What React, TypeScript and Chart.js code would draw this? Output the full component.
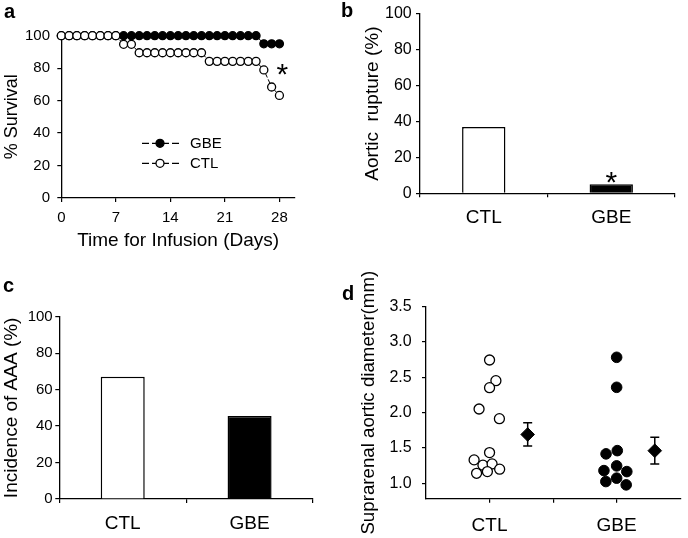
import React, { useEffect, useRef } from 'react';
import { Chart, registerables } from 'chart.js';

Chart.register(...registerables);

const FONT = "'Liberation Sans', Arial, Helvetica, sans-serif";
Chart.defaults.font.family = FONT;
Chart.defaults.color = '#000';

// ---------- Panel a: survival ----------
const days = [0, 1, 2, 3, 4, 5, 6, 7, 8, 9, 10, 11, 12, 13, 14, 15, 16, 17, 18, 19, 20, 21, 22, 23, 24, 25, 26, 27, 28];
const survivalCTL = [100, 100, 100, 100, 100, 100, 100, 100, 94.7, 94.7, 89.5, 89.5, 89.5, 89.5, 89.5, 89.5, 89.5, 89.5, 89.5, 84.2, 84.2, 84.2, 84.2, 84.2, 84.2, 84.2, 78.9, 68.4, 63.2];
const survivalGBE = [100, 100, 100, 100, 100, 100, 100, 100, 100, 100, 100, 100, 100, 100, 100, 100, 100, 100, 100, 100, 100, 100, 100, 100, 100, 100, 95, 95, 95];
const dayTicks = [0, 7, 14, 21, 28];
const survivalTicks = [0, 20, 40, 60, 80, 100];

// ---------- Panel b / c: bars ----------
const groups = ['CTL', 'GBE'];
const rupturePct = [37, 5];
const aaaPct = [67, 45.5];
const pctTicks = [0, 20, 40, 60, 80, 100];

// ---------- Panel d: diameters ----------
const ctlX = [1.0, 1.1, 1.0, 0.835, 1.155, 1.0, 0.757, 0.896, 1.04, 1.159, 0.796, 0.966];
const ctlY = [2.745, 2.452, 2.353, 2.051, 1.914, 1.433, 1.33, 1.255, 1.273, 1.198, 1.14, 1.164];
const gbeX = [3.0, 3.0, 2.833, 3.01, 3.0, 2.8, 3.16, 2.83, 3.0, 3.15];
const gbeY = [2.783, 2.358, 1.415, 1.461, 1.245, 1.178, 1.164, 1.023, 1.071, 0.976];
const meanX = [1.6, 3.6];
const meanY = [1.69, 1.46];
const semY = [0.165, 0.19];
const dTickValues = [1, 2, 3];
const dTickLabels = ['CTL', '', 'GBE'];
const diamTicks = [1.0, 1.5, 2.0, 2.5, 3.0, 3.5];

const BLACK = '#000';

function gridOpts() {
  return { drawOnChartArea: false, drawTicks: true, tickLength: 4, color: BLACK, lineWidth: 1.2 };
}
function borderOpts() {
  return { display: true, color: BLACK, width: 1.3 };
}

function letterPlugin(letter: string, x: number, y: number) {
  return {
    id: 'letter' + letter,
    afterDraw(chart: any) {
      const ctx = chart.ctx;
      ctx.save();
      ctx.font = `bold 20px ${FONT}`;
      ctx.fillStyle = BLACK;
      ctx.textAlign = 'left';
      ctx.textBaseline = 'alphabetic';
      ctx.fillText(letter, x, y);
      ctx.restore();
    },
  };
}

function starAt(ctx: any, x: number, cy: number) {
  const size = 30;
  ctx.save();
  ctx.font = `${size}px ${FONT}`;
  ctx.fillStyle = BLACK;
  ctx.textAlign = 'center';
  ctx.textBaseline = 'alphabetic';
  ctx.fillText('*', x, cy + 0.568 * size);
  ctx.restore();
}

function ChartCanvas({ left, top, width, height, makeConfig }: any) {
  const ref = useRef<HTMLCanvasElement>(null);
  useEffect(() => {
    const chart = new Chart(ref.current as HTMLCanvasElement, makeConfig());
    return () => chart.destroy();
  }, []);
  return (
    <canvas
      ref={ref}
      width={width}
      height={height}
      style={{ position: 'absolute', left, top, width, height, display: 'block' }}
    />
  );
}

function configA(): any {
  const legendPlugin = {
    id: 'legendA',
    afterDraw(chart: any) {
      const ctx = chart.ctx;
      const rows = [
        { label: 'GBE', fill: BLACK, y: 143.3 },
        { label: 'CTL', fill: '#fff', y: 163.3 },
      ];
      rows.forEach((r) => {
        ctx.save();
        ctx.strokeStyle = BLACK;
        ctx.lineWidth = 1.2;
        ctx.setLineDash([7, 3]);
        ctx.beginPath();
        ctx.moveTo(142, r.y);
        ctx.lineTo(181, r.y);
        ctx.stroke();
        ctx.setLineDash([]);
        ctx.beginPath();
        ctx.arc(160, r.y, 4, 0, Math.PI * 2);
        ctx.fillStyle = r.fill;
        ctx.fill();
        ctx.lineWidth = 1.3;
        ctx.stroke();
        ctx.font = `15px ${FONT}`;
        ctx.fillStyle = BLACK;
        ctx.textAlign = 'left';
        ctx.textBaseline = 'middle';
        ctx.fillText(r.label, 190, r.y + 1);
        ctx.restore();
      });
      const xs = chart.scales.x;
      const ys = chart.scales.y;
      starAt(ctx, xs.getPixelForValue(28) + 3, ys.getPixelForValue(80.5));
    },
  };
  return {
    type: 'line',
    data: {
      datasets: [
        {
          label: 'CTL',
          data: days.map((d, i) => ({ x: d, y: survivalCTL[i] })),
          borderColor: BLACK,
          borderWidth: 1,
          borderDash: [4, 2],
          pointRadius: 4,
          pointBackgroundColor: '#fff',
          pointBorderColor: BLACK,
          pointBorderWidth: 1.3,
          fill: false,
          clip: false,
        },
        {
          label: 'GBE',
          data: days.map((d, i) => ({ x: d, y: survivalGBE[i] })),
          borderColor: BLACK,
          borderWidth: 1,
          borderDash: [4, 2],
          pointRadius: 4,
          pointBackgroundColor: BLACK,
          pointBorderColor: BLACK,
          pointBorderWidth: 1.3,
          fill: false,
          clip: false,
        },
      ],
    },
    options: {
      animation: false,
      responsive: false,
      layout: { padding: { left: 0, top: 35.7, right: 45, bottom: 13 } },
      plugins: { legend: { display: false }, tooltip: { enabled: false } },
      scales: {
        x: {
          type: 'linear',
          min: 0,
          max: 30,
          afterBuildTicks: (s: any) => {
            s.ticks = dayTicks.map((v) => ({ value: v }));
          },
          afterFit: (s: any) => {
            s.height = 54;
          },
          ticks: { font: { size: 15 }, color: BLACK, padding: 7, maxRotation: 0, autoSkip: false },
          grid: gridOpts(),
          border: borderOpts(),
          title: { display: true, text: 'Time for Infusion (Days)', font: { size: 19 }, color: BLACK, padding: 0 },
        },
        y: {
          min: 0,
          max: 100,
          afterBuildTicks: (s: any) => {
            s.ticks = survivalTicks.map((v) => ({ value: v }));
          },
          afterFit: (s: any) => {
            s.width = 61.3;
          },
          ticks: { font: { size: 15 }, color: BLACK, padding: 7.3 },
          grid: gridOpts(),
          border: borderOpts(),
          title: { display: true, text: '% Survival', font: { size: 18 }, color: BLACK, padding: { top: 1, bottom: 0 } },
        },
      },
    },
    plugins: [legendPlugin, letterPlugin('a', 4, 18)],
  };
}

function barConfig(opts: any): any {
  const extra = {
    id: 'extra' + opts.letter,
    afterDraw(chart: any) {
      if (opts.starIndex !== undefined) {
        const meta = chart.getDatasetMeta(0);
        const bar = meta.data[opts.starIndex];
        starAt(chart.ctx, bar.x, bar.y - 9);
      }
    },
  };
  return {
    type: 'bar',
    data: {
      labels: groups,
      datasets: [
        {
          data: opts.values,
          backgroundColor: ['#fff', BLACK],
          borderColor: BLACK,
          borderWidth: 1.5,
          borderSkipped: 'bottom',
          barPercentage: opts.barPct,
          categoryPercentage: 1,
        },
      ],
    },
    options: {
      animation: false,
      responsive: false,
      layout: { padding: opts.padding },
      plugins: { legend: { display: false }, tooltip: { enabled: false } },
      scales: {
        x: {
          afterFit: (s: any) => {
            s.height = opts.xHeight;
          },
          ticks: { font: { size: 19 }, color: BLACK, padding: opts.xPad, maxRotation: 0 },
          grid: gridOpts(),
          border: borderOpts(),
        },
        y: {
          min: 0,
          max: 100,
          afterBuildTicks: (s: any) => {
            s.ticks = pctTicks.map((v) => ({ value: v }));
          },
          afterFit: (s: any) => {
            s.width = opts.yWidth;
          },
          ticks: { font: { size: opts.yTickSize }, color: BLACK, padding: opts.yPad },
          grid: gridOpts(),
          border: borderOpts(),
          title: { display: true, text: opts.title, font: { size: 19 }, color: BLACK, padding: { top: opts.titlePad, bottom: 0 } },
        },
      },
    },
    plugins: [extra, letterPlugin(opts.letter, opts.lx, opts.ly)],
  };
}

function configB(): any {
  return barConfig({
    letter: 'b',
    lx: 1,
    ly: 17,
    values: rupturePct,
    barPct: 0.34,
    padding: { left: 0, top: 12.7, right: 13, bottom: 31.7 },
    xHeight: 40,
    xPad: 9.3,
    yWidth: 80,
    yPad: 4.3,
    yTickSize: 16,
    title: 'Aortic  rupture (%)',
    titlePad: 21.1,
    starIndex: 1,
  });
}

function configC(): any {
  return barConfig({
    letter: 'c',
    lx: 3,
    ly: 27,
    values: aaaPct,
    barPct: 0.347,
    padding: { left: 0, top: 51.7, right: 27, bottom: 0 },
    xHeight: 39,
    xPad: 9.6,
    yWidth: 59.3,
    yPad: 2.6,
    yTickSize: 15,
    title: 'Incidence of AAA (%)',
    titlePad: 0,
  });
}

function configD(): any {
  const errPlugin = {
    id: 'errorBarsD',
    beforeDatasetsDraw(chart: any) {
      const ctx = chart.ctx;
      const xs = chart.scales.x;
      const ys = chart.scales.y;
      ctx.save();
      ctx.strokeStyle = BLACK;
      ctx.lineWidth = 1.5;
      meanX.forEach((mx, i) => {
        const px = xs.getPixelForValue(mx);
        const top = ys.getPixelForValue(meanY[i] + semY[i]);
        const bot = ys.getPixelForValue(meanY[i] - semY[i]);
        ctx.beginPath();
        ctx.moveTo(px, top);
        ctx.lineTo(px, bot);
        ctx.moveTo(px - 4.5, top);
        ctx.lineTo(px + 4.5, top);
        ctx.moveTo(px - 4.5, bot);
        ctx.lineTo(px + 4.5, bot);
        ctx.stroke();
      });
      ctx.restore();
    },
  };
  return {
    type: 'scatter',
    data: {
      datasets: [
        {
          label: 'CTL',
          data: ctlX.map((x, i) => ({ x, y: ctlY[i] })),
          pointRadius: 5,
          pointBackgroundColor: '#fff',
          pointBorderColor: BLACK,
          pointBorderWidth: 1.3,
          clip: false,
        },
        {
          label: 'GBE',
          data: gbeX.map((x, i) => ({ x, y: gbeY[i] })),
          pointRadius: 5.3,
          pointBackgroundColor: BLACK,
          pointBorderColor: BLACK,
          pointBorderWidth: 1,
          clip: false,
        },
        {
          label: 'Mean',
          data: meanX.map((x, i) => ({ x, y: meanY[i] })),
          pointStyle: 'rectRot',
          pointRadius: 6.8,
          pointBackgroundColor: BLACK,
          pointBorderColor: BLACK,
          pointBorderWidth: 1,
          clip: false,
        },
      ],
    },
    options: {
      animation: false,
      responsive: false,
      layout: { padding: { left: 0, top: 41.7, right: 2, bottom: 0 } },
      plugins: { legend: { display: false }, tooltip: { enabled: false } },
      scales: {
        x: {
          type: 'linear',
          min: 0,
          max: 4,
          afterBuildTicks: (s: any) => {
            s.ticks = dTickValues.map((v) => ({ value: v }));
          },
          afterFit: (s: any) => {
            s.height = 39.3;
          },
          ticks: {
            font: { size: 19 },
            color: BLACK,
            padding: 11.7,
            maxRotation: 0,
            autoSkip: false,
            callback: (v: any) => dTickLabels[dTickValues.indexOf(v)] ?? '',
          },
          grid: gridOpts(),
          border: borderOpts(),
        },
        y: {
          min: 0.78,
          max: 3.5,
          afterBuildTicks: (s: any) => {
            s.ticks = diamTicks.map((v) => ({ value: v }));
          },
          afterFit: (s: any) => {
            s.width = 86;
          },
          ticks: { font: { size: 16 }, color: BLACK, padding: 10.3, callback: (v: any) => Number(v).toFixed(1) },
          grid: gridOpts(),
          border: borderOpts(),
          title: {
            display: true,
            text: 'Suprarenal aortic diameter(mm)',
            font: { size: 18.7 },
            color: BLACK,
            padding: { top: 17.6, bottom: 0 },
          },
        },
      },
    },
    plugins: [errPlugin, letterPlugin('d', 2, 35)],
  };
}

export default function App() {
  return (
    <div style={{ position: 'absolute', left: 0, top: 0, width: 688, height: 538, background: '#fff', overflow: 'hidden' }}>
      <ChartCanvas left={0} top={0} width={340} height={265} makeConfig={configA} />
      <ChartCanvas left={340} top={0} width={348} height={265} makeConfig={configB} />
      <ChartCanvas left={0} top={265} width={340} height={273} makeConfig={configC} />
      <ChartCanvas left={340} top={265} width={348} height={273} makeConfig={configD} />
    </div>
  );
}
